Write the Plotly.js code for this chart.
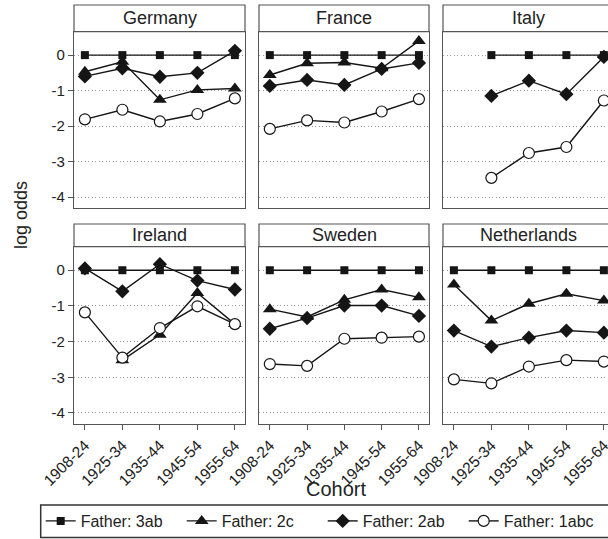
<!DOCTYPE html>
<html>
<head>
<meta charset="utf-8">
<script src="https://cdn.plot.ly/plotly-3.0.1.min.js"></script>
<style>
html,body{margin:0;padding:0;overflow:hidden;background:#fff;}
#chart{width:622px;height:539px;}
</style>
</head>
<body>
<div id="chart"></div>
<script>
// ---- data ----
const cohorts = ['1908-24','1925-34','1935-44','1945-54','1955-64'];
const countries = ['Germany','France','Italy','Ireland','Sweden','Netherlands'];
const seriesNames = ['Father: 3ab','Father: 2c','Father: 2ab','Father: 1abc'];

const germany_3ab  = [0, 0, 0, 0, 0];
const germany_2c   = [-0.47, -0.19, -1.26, -0.98, -0.94];
const germany_2ab  = [-0.60, -0.37, -0.61, -0.50, 0.12];
const germany_1abc = [-1.81, -1.54, -1.87, -1.66, -1.22];

const france_3ab  = [0, 0, 0, 0, 0];
const france_2c   = [-0.56, -0.23, -0.21, -0.37, 0.40];
const france_2ab  = [-0.87, -0.70, -0.84, -0.39, -0.22];
const france_1abc = [-2.08, -1.84, -1.90, -1.59, -1.24];

const italy_3ab  = [null, 0, 0, 0, 0];
const italy_2c   = [null, null, null, null, null];
const italy_2ab  = [null, -1.15, -0.72, -1.10, -0.05];
const italy_1abc = [null, -3.46, -2.76, -2.59, -1.28];

const ireland_3ab  = [0, 0, 0, 0, 0];
const ireland_2c   = [null, -2.52, -1.81, -0.64, -1.51];
const ireland_2ab  = [0.05, -0.59, 0.17, -0.29, -0.54];
const ireland_1abc = [-1.18, -2.45, -1.62, -1.01, -1.51];

const sweden_3ab  = [0, 0, 0, 0, 0];
const sweden_2c   = [-1.09, -1.31, -0.83, -0.54, -0.76];
const sweden_2ab  = [-1.64, -1.34, -0.99, -0.99, -1.28];
const sweden_1abc = [-2.63, -2.68, -1.92, -1.89, -1.86];

const netherlands_3ab  = [0, 0, 0, 0, 0];
const netherlands_2c   = [-0.40, -1.41, -0.94, -0.66, -0.85];
const netherlands_2ab  = [-1.69, -2.14, -1.89, -1.69, -1.75];
const netherlands_1abc = [-3.06, -3.17, -2.70, -2.52, -2.56];

const yTickVals = [0, -1, -2, -3, -4];
const yTickText = ['0', '-1', '-2', '-3', '-4'];

const panelData = [
  [germany_3ab, germany_2c, germany_2ab, germany_1abc],
  [france_3ab, france_2c, france_2ab, france_1abc],
  [italy_3ab, italy_2c, italy_2ab, italy_1abc],
  [ireland_3ab, ireland_2c, ireland_2ab, ireland_1abc],
  [sweden_3ab, sweden_2c, sweden_2ab, sweden_1abc],
  [netherlands_3ab, netherlands_2c, netherlands_2ab, netherlands_1abc]
];

// ---- styling ----
const FONT = 'Liberation Sans, Arial, sans-serif';
const INK = '#151515';
const FRAME = '#555';
const markerStyles = [
  {symbol: 'square', size: 8, color: INK, line: {width: 0}},
  {symbol: 'triangle-up', size: 12, color: INK, line: {width: 0}},
  {symbol: 'diamond', size: 11, color: INK, line: {width: 0}},
  {symbol: 'circle', size: 11, color: '#fff', line: {color: INK, width: 1.2}}
];

// geometry in px (figure is 622 wide, cropped by the 608 window)
const W = 622, H = 539;
const mL = 74, mR = 8, mT = 5, mB = 115;
const pw = W - mL - mR, ph = H - mT - mB;
const colPx = [[74, 245], [259, 429], [443, 614]];
const rowDataPx = [[31.7, 208], [246.7, 424]];
const rowStripPx = [[5, 31.7], [224, 246.7]];
const px2x = p => (p - mL) / pw;
const px2y = p => (H - mB - p) / ph;

const traces = [];
const layout = {
  width: W, height: H,
  margin: {l: mL, r: mR, t: mT, b: mB, autoexpand: false},
  paper_bgcolor: '#fff', plot_bgcolor: '#fff',
  font: {family: FONT, color: '#222'},
  showlegend: true,
  legend: {
    orientation: 'h', x: px2x(40.7), xanchor: 'left', y: px2y(504), yanchor: 'top',
    borderwidth: 0, bgcolor: 'rgba(0,0,0,0)',
    font: {family: FONT, size: 16, color: '#222'},
    itemwidth: 30, traceorder: 'normal', entrywidth: 96
  },
  shapes: [{
    type: 'rect', xref: 'paper', yref: 'paper',
    x0: px2x(40.7), x1: px2x(621), y0: px2y(537.5), y1: px2y(505),
    fillcolor: 'rgba(0,0,0,0)', line: {color: '#333', width: 1.5}, layer: 'above'
  }],
  annotations: []
};

for (let p = 0; p < 6; p++) {
  const row = Math.floor(p / 3), col = p % 3;
  const idx = p === 0 ? '' : String(p + 1);
  const xa = 'x' + idx, ya = 'y' + idx;
  for (let s = 0; s < 4; s++) {
    traces.push({
      type: 'scatter', mode: 'lines+markers',
      x: cohorts, y: panelData[p][s],
      xaxis: xa, yaxis: ya,
      name: seriesNames[s], legendgroup: seriesNames[s],
      showlegend: p === 0,
      line: {color: INK, width: 1.4},
      marker: markerStyles[s],
      connectgaps: false,
      cliponaxis: false,
      hoverinfo: 'skip'
    });
  }
  layout['xaxis' + idx] = {
    domain: [px2x(colPx[col][0]), px2x(colPx[col][1])],
    anchor: ya,
    type: 'category', categoryarray: cohorts, categoryorder: 'array',
    range: [-0.29, 4.27],
    showgrid: false, zeroline: false,
    showline: true, mirror: true, linecolor: FRAME, linewidth: 1.2,
    ticks: row === 1 ? 'outside' : '', ticklen: 5, tickcolor: FRAME,
    showticklabels: row === 1, tickangle: -45,
    tickfont: {family: FONT, size: 15.5, color: '#222'},
    fixedrange: true
  };
  layout['yaxis' + idx] = {
    domain: [px2y(rowDataPx[row][1]), px2y(rowDataPx[row][0])],
    anchor: xa,
    range: [-4.31, 0.66],
    tickvals: yTickVals, ticktext: yTickText,
    showgrid: true, gridcolor: '#9a9a9a', griddash: '1px,2.5px', gridwidth: 1,
    zeroline: false,
    showline: true, mirror: true, linecolor: FRAME, linewidth: 1.2,
    ticks: col === 0 ? 'outside' : '', ticklen: 5, tickcolor: FRAME,
    showticklabels: col === 0,
    tickfont: {family: FONT, size: 15, color: '#222'},
    fixedrange: true
  };
  // strip
  layout.shapes.push({
    type: 'rect', xref: 'paper', yref: 'paper',
    x0: px2x(colPx[col][0]), x1: px2x(colPx[col][1]),
    y0: px2y(rowStripPx[row][1]), y1: px2y(rowStripPx[row][0]),
    fillcolor: '#fff', line: {color: FRAME, width: 1.2}, layer: 'above'
  });
  layout.annotations.push({
    text: countries[p], xref: 'paper', yref: 'paper',
    x: px2x((colPx[col][0] + colPx[col][1]) / 2),
    y: px2y((rowStripPx[row][0] + rowStripPx[row][1]) / 2),
    xanchor: 'center', yanchor: 'middle', showarrow: false,
    font: {family: FONT, size: 18, color: '#222'}
  });
}

layout.annotations.push({
  text: 'Cohort', xref: 'paper', yref: 'paper',
  x: px2x(336), y: px2y(489), xanchor: 'center', yanchor: 'middle',
  showarrow: false, font: {family: FONT, size: 20, color: '#222'}
});
layout.annotations.push({
  text: 'log odds', xref: 'paper', yref: 'paper',
  x: px2x(21), y: px2y(215), xanchor: 'center', yanchor: 'middle',
  textangle: -90, showarrow: false, font: {family: FONT, size: 18, color: '#222'}
});

Plotly.newPlot('chart', traces, layout, {displayModeBar: false, staticPlot: true});
</script>
</body>
</html>
